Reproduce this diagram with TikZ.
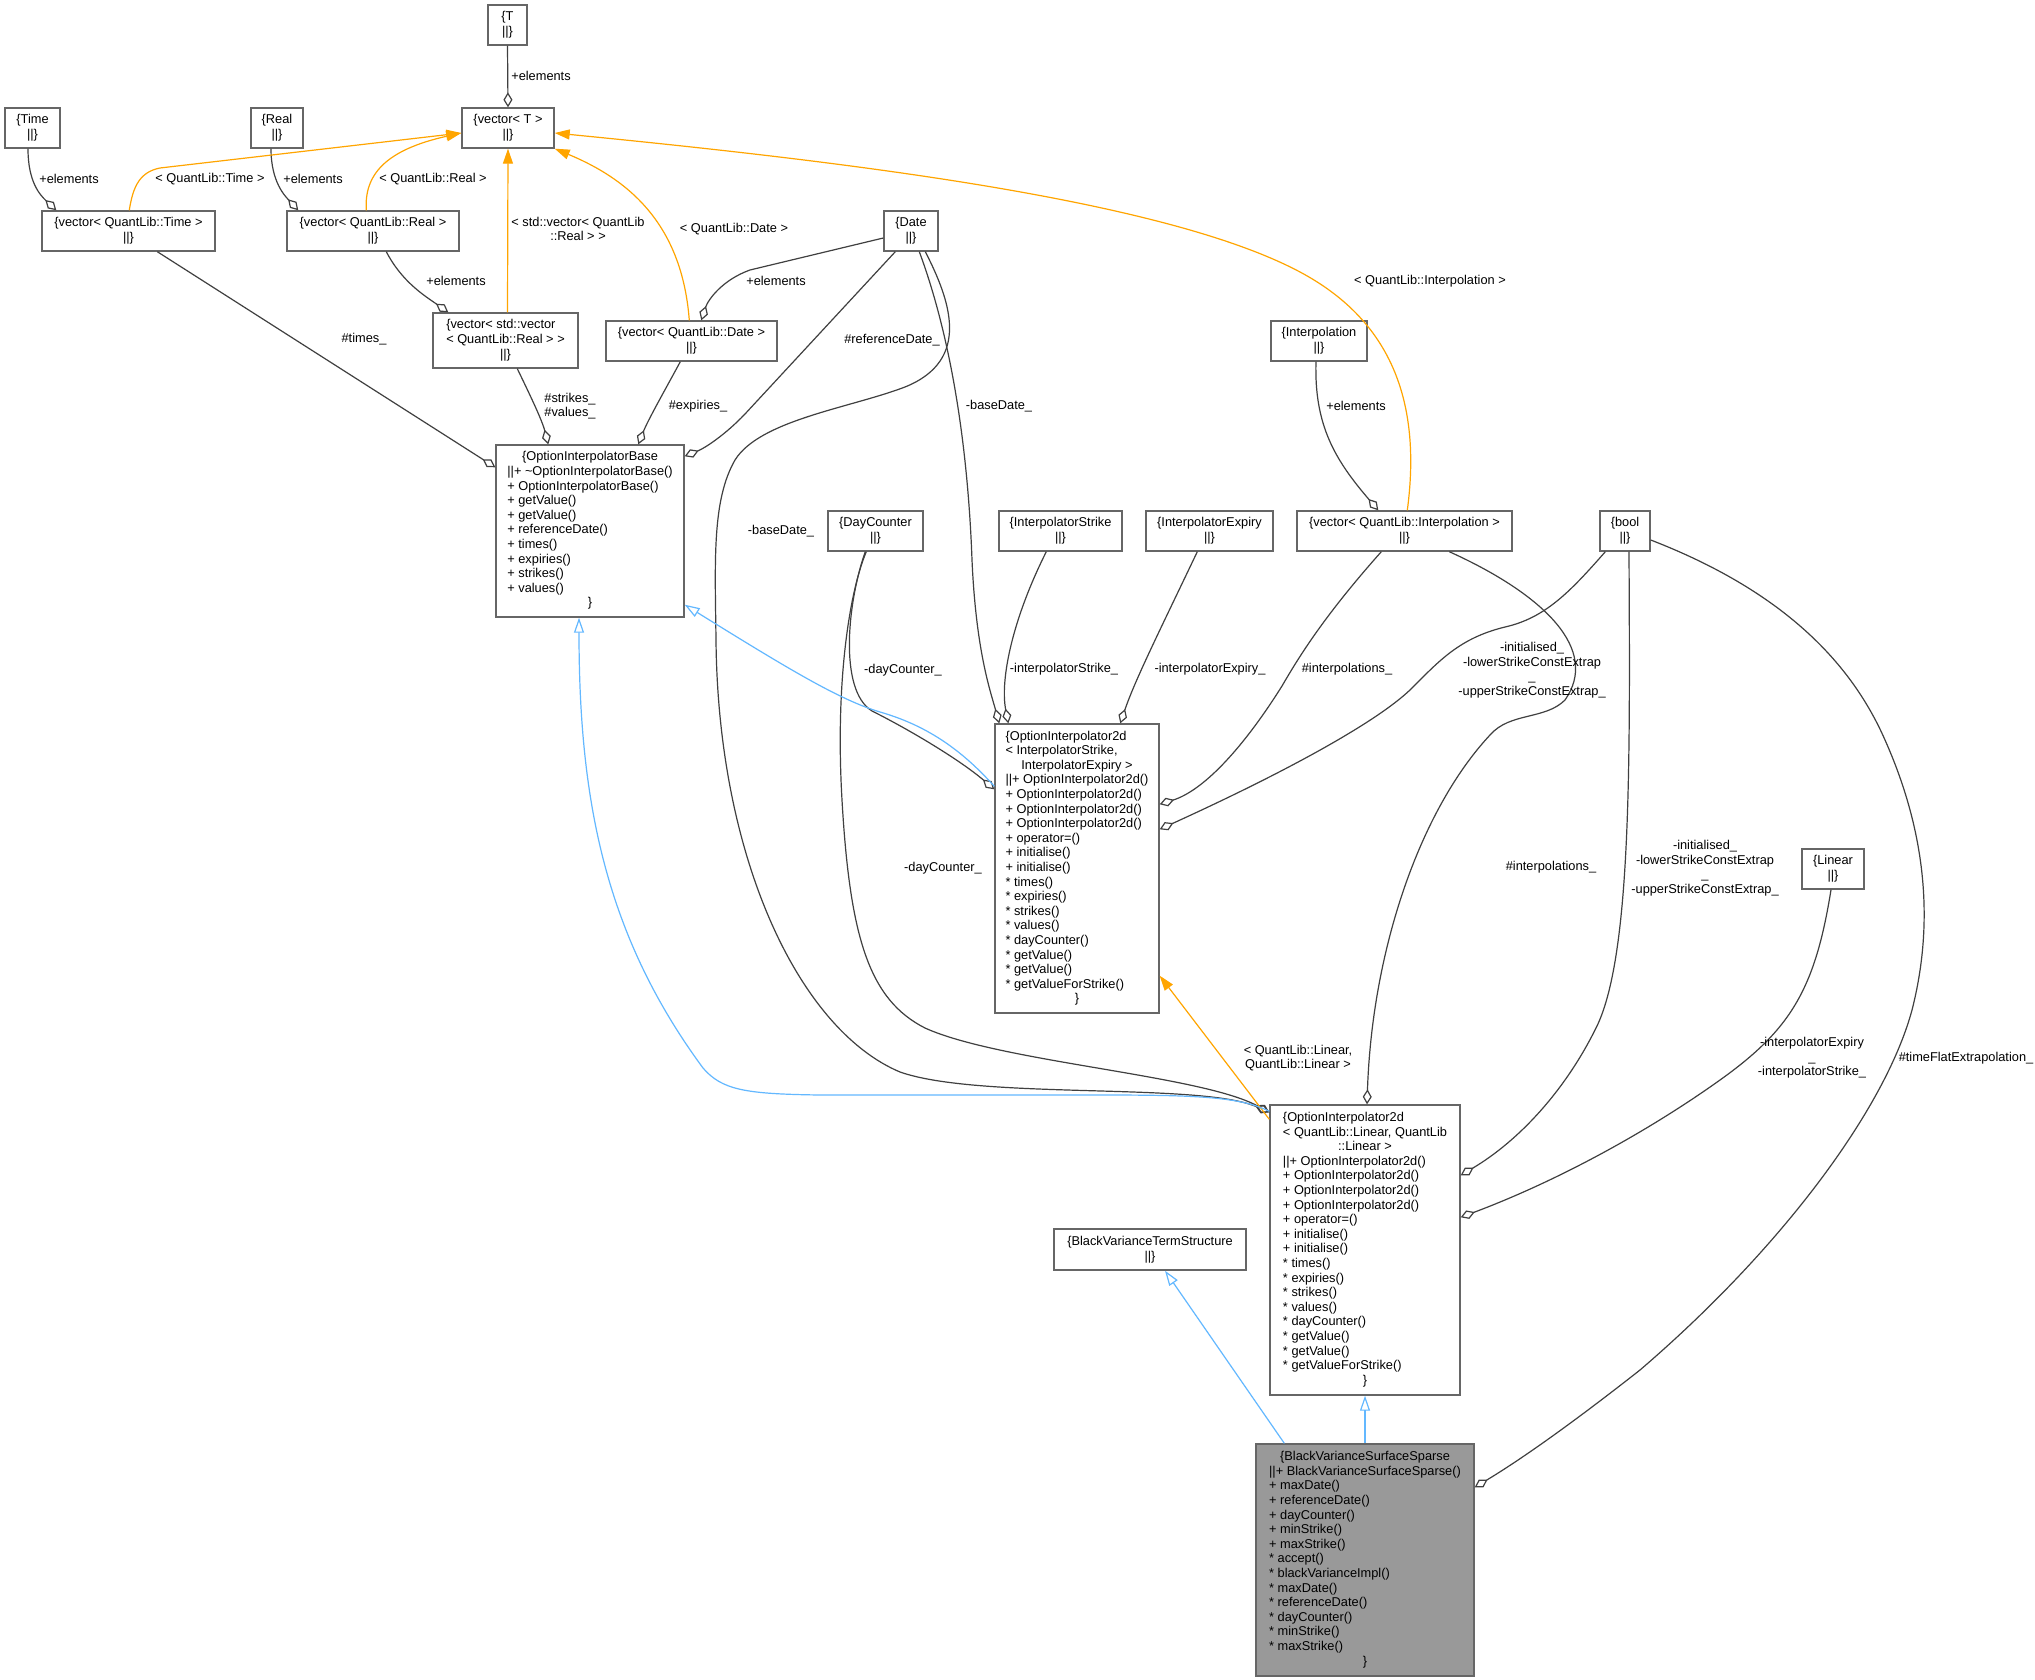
\documentclass[tikz,border=0pt]{standalone}
\usepackage{fontspec}
\setmainfont{Liberation Sans}
\usetikzlibrary{arrows.meta,calc}
\definecolor{boxc}{HTML}{666666}
\definecolor{usec}{HTML}{404040}
\definecolor{inhc}{HTML}{63B8FF}
\definecolor{tmpc}{HTML}{FFA500}
\definecolor{selc}{HTML}{999999}
\newcommand\dxf{\fontsize{6.4pt}{7.3pt}\selectfont}
\newcommand\mcl[1]{\multicolumn{1}{@{}c@{}}{#1}}
\newcommand\st{{*}}
\begin{document}
\begin{tikzpicture}[x=0.5pt,y=-0.5pt,
  wh/.style 2 args={minimum width=#1*0.5pt, minimum height=#2*0.5pt},
  cls/.style={draw=boxc, line width=0.7pt, fill=white, inner sep=0pt, align=center, font=\dxf},
  clsb/.style={draw=boxc, line width=0.7pt, fill=white, inner sep=0pt, font=\dxf},
  lab/.style={font=\dxf, align=center, inner sep=0pt},
  use/.style={draw=usec, line width=0.6pt, -{Diamond[open, length=7.5pt, width=4.5pt, line width=0.6pt]}},
  inh/.style={draw=inhc, line width=0.6pt, -{Triangle[open, length=7.5pt, width=5pt, line width=0.6pt]}},
  tmpl/.style={draw=tmpc, line width=0.6pt, -{Triangle[length=7.5pt, width=5pt, fill=tmpc]}}]
\useasboundingbox (0,0) rectangle (2035,1680);
\fill[white] (0,0) rectangle (2035,1680);

% ---------- nodes ----------
\node[cls, wh={39}{40}] (T) at (507.5,25) {\{T\\||\}};
\node[cls, wh={92}{40}] (vT) at (508,128) {\{vector< T >\\||\}};
\node[cls, wh={55}{40}] (Time) at (32.5,128) {\{Time\\||\}};
\node[cls, wh={52}{40}] (Real) at (277,128) {\{Real\\||\}};
\node[cls, wh={173}{40}] (vTime) at (128.5,231) {\{vector< QuantLib::Time >\\||\}};
\node[cls, wh={172}{40}] (vReal) at (373,231) {\{vector< QuantLib::Real >\\||\}};
\node[clsb, wh={145}{55}] (vVec) at (505.5,340.5) {\begin{tabular}{@{}l@{}}\{vector< std::vector\\< QuantLib::Real > >\\\mcl{||\}}\end{tabular}};
\node[cls, wh={171}{40}] (vDate) at (691.5,341) {\{vector< QuantLib::Date >\\||\}};
\node[cls, wh={54}{40}] (Date) at (911,231) {\{Date\\||\}};
\node[clsb, wh={188}{172}] (OIB) at (590,531) {\begin{tabular}{@{}l@{}}\mcl{\{OptionInterpolatorBase}\\
||+ \textasciitilde OptionInterpolatorBase()\\
+ OptionInterpolatorBase()\\
+ getValue()\\
+ getValue()\\
+ referenceDate()\\
+ times()\\
+ expiries()\\
+ strikes()\\
+ values()\\
\mcl{\}}\end{tabular}};
\node[cls, wh={96}{40}] (Interp) at (1319,341) {\{Interpolation\\||\}};
\node[cls, wh={95}{40}] (DayC) at (875.5,531) {\{DayCounter\\||\}};
\node[cls, wh={123}{40}] (IS) at (1060.5,531) {\{InterpolatorStrike\\||\}};
\node[cls, wh={127}{40}] (IE) at (1209.5,531) {\{InterpolatorExpiry\\||\}};
\node[cls, wh={215}{40}] (vInterp) at (1404.5,531) {\{vector< QuantLib::Interpolation >\\||\}};
\node[cls, wh={50}{40}] (bool) at (1625,531) {\{bool\\||\}};
\node[clsb, wh={164}{289}] (OI2d) at (1077,868.5) {\begin{tabular}{@{}l@{}}\{OptionInterpolator2d\\
< InterpolatorStrike,\\
\mcl{InterpolatorExpiry >}\\
||+ OptionInterpolator2d()\\
+ OptionInterpolator2d()\\
+ OptionInterpolator2d()\\
+ OptionInterpolator2d()\\
+ operator=()\\
+ initialise()\\
+ initialise()\\
\st{} times()\\
\st{} expiries()\\
\st{} strikes()\\
\st{} values()\\
\st{} dayCounter()\\
\st{} getValue()\\
\st{} getValue()\\
\st{} getValueForStrike()\\
\mcl{\}}\end{tabular}};
\node[cls, wh={62}{40}] (Linear) at (1833,869) {\{Linear\\||\}};
\node[clsb, wh={190}{290}] (OI2dL) at (1365,1250) {\begin{tabular}{@{}l@{}}\{OptionInterpolator2d\\
< QuantLib::Linear, QuantLib\\
\mcl{::Linear >}\\
||+ OptionInterpolator2d()\\
+ OptionInterpolator2d()\\
+ OptionInterpolator2d()\\
+ OptionInterpolator2d()\\
+ operator=()\\
+ initialise()\\
+ initialise()\\
\st{} times()\\
\st{} expiries()\\
\st{} strikes()\\
\st{} values()\\
\st{} dayCounter()\\
\st{} getValue()\\
\st{} getValue()\\
\st{} getValueForStrike()\\
\mcl{\}}\end{tabular}};
\node[cls, wh={192}{41}] (BVTS) at (1150,1249.5) {\{BlackVarianceTermStructure\\||\}};
\node[clsb, fill=selc, wh={218}{232}] (BVSS) at (1365,1560) {\begin{tabular}{@{}l@{}}\mcl{\{BlackVarianceSurfaceSparse}\\
||+ BlackVarianceSurfaceSparse()\\
+ maxDate()\\
+ referenceDate()\\
+ dayCounter()\\
+ minStrike()\\
+ maxStrike()\\
\st{} accept()\\
\st{} blackVarianceImpl()\\
\st{} maxDate()\\
\st{} referenceDate()\\
\st{} dayCounter()\\
\st{} minStrike()\\
\st{} maxStrike()\\
\mcl{\}}\end{tabular}};

% ---------- usage edges ----------
\draw[use] (T.south) -- (vT.north);
\draw[use] ($(Time.south)+(-4.5,0)$) .. controls (28,182) and (40,195) .. ($(vTime.north west)+(15,0)$);
\draw[use] ($(Real.south)+(-6,0)$) .. controls (271,182) and (285,196) .. ($(vReal.north west)+(12,0)$);
\draw[use] ($(vReal.south west)+(100,0)$) .. controls (402,282) and (425,296) .. ($(vVec.north west)+(16,0)$);
\draw[use] ($(Date.west)+(0,7)$) -- (750,270) .. controls (722,280) and (708,300) .. ($(vDate.north west)+(96,0)$);
\draw[use] ($(Interp.south)+(-3,0)$) .. controls (1314,425) and (1335,460) .. ($(vInterp.north west)+(82,0)$);
\draw[use] ($(vTime.south west)+(116,0)$) -- ($(OIB.north west)+(0,23)$);
\draw[use] ($(vVec.south west)+(85,0)$) .. controls (530,395) and (542,420) .. ($(OIB.north west)+(53,0)$);
\draw[use] ($(vDate.south west)+(75,0)$) .. controls (665,390) and (648,420) .. ($(OIB.north west)+(143,0)$);
\draw[use] ($(Date.south west)+(12,0)$) -- (745,414) .. controls (725,435) and (705,448) .. ($(OIB.north east)+(0,12)$);
\draw[use] ($(Date.south west)+(42,0)$) .. controls (950,300) and (972,360) .. (905,387) .. controls (850,408) and (760,420) .. (735,460) .. controls (712,500) and (715,560) .. (716,640) .. controls (718,860) and (800,1030) .. (900,1072) .. controls (980,1100) and (1200,1082) .. ($(OI2dL.north west)+(0,8)$);
\draw[use] ($(DayC.south west)+(39,0)$) .. controls (850,590) and (835,680) .. (842,800) .. controls (850,940) and (870,1000) .. (925,1028) .. controls (1000,1062) and (1200,1075) .. ($(OI2dL.north west)+(0,8)$);
\draw[use] ($(DayC.south west)+(38,0)$) .. controls (848,600) and (838,690) .. (872,711) .. controls (910,730) and (960,760) .. ($(OI2d.north west)+(0,66)$);
\draw[use] ($(IS.south west)+(48,0)$) .. controls (1012,620) and (1000,680) .. ($(OI2d.north west)+(14,0)$);
\draw[use] ($(Date.south west)+(36,0)$) .. controls (952,340) and (968,450) .. (972,560) .. controls (976,650) and (990,690) .. ($(OI2d.north west)+(5,0)$);
\draw[use] ($(IE.south west)+(52,0)$) .. controls (1160,630) and (1135,680) .. ($(OI2d.north west)+(126,0)$);
\draw[use] ($(vInterp.south west)+(85,0)$) .. controls (1325,615) and (1300,655) .. (1282,686) .. controls (1245,745) and (1205,790) .. ($(OI2d.north east)+(0,81)$);
\draw[use] ($(bool.south west)+(6,0)$) .. controls (1570,592) and (1545,618) .. (1505,627) .. controls (1460,638) and (1440,660) .. (1412,688) .. controls (1380,720) and (1290,770) .. ($(OI2d.north east)+(0,106)$);
\draw[use] ($(vInterp.south west)+(153,0)$) .. controls (1545,595) and (1600,650) .. (1565,700) .. controls (1545,720) and (1510,712) .. (1490,735) .. controls (1420,810) and (1372,950) .. ($(OI2dL.north)+(2,0)$);
\draw[use] ($(bool.south)+(4,0)$) .. controls (1630,760) and (1632,960) .. (1595,1030) .. controls (1565,1090) and (1520,1140) .. ($(OI2dL.north east)+(0,71)$);
\draw[use] ($(Linear.south)+(-2,0)$) .. controls (1815,990) and (1790,1030) .. (1720,1080) .. controls (1650,1130) and (1560,1180) .. ($(OI2dL.north east)+(0,113)$);
\draw[use] ($(bool.east)+(0,9)$) .. controls (1780,590) and (1850,660) .. (1885,740) .. controls (1925,830) and (1935,920) .. (1912,1010) .. controls (1885,1110) and (1780,1250) .. (1640,1370) .. controls (1570,1425) and (1520,1460) .. ($(BVSS.north east)+(0,44)$);

% ---------- template edges ----------
\draw[tmpl] ($(vTime.north west)+(88,0)$) .. controls (133,186) and (140,172) .. (160,168) -- ($(vT.west)+(0,5)$);
\draw[tmpl] ($(vReal.north west)+(80,0)$) .. controls (364,175) and (385,150) .. ($(vT.west)+(0,5)$);
\draw[tmpl] ($(vVec.north)+(2,0)$) -- (vT.south);
\draw[tmpl] ($(vDate.north west)+(84,0)$) .. controls (682,225) and (630,180) .. (vT.south east);
\draw[tmpl] ($(vInterp.north west)+(111,0)$) .. controls (1422,400) and (1390,320) .. (1300,272) .. controls (1165,200) and (850,162) .. ($(vT.east)+(0,5)$);
\draw[tmpl] ($(OI2dL.north west)+(0,15)$) -- ($(OI2d.south east)+(0,-38)$);

% ---------- inheritance edges ----------
\draw[inh] ($(OI2d.north west)+(0,63)$) .. controls (960,748) and (925,725) .. (880,712) .. controls (840,700) and (790,670) .. ($(OIB.south east)+(0,-13)$);
\draw[inh] ($(OI2dL.north west)+(0,7)$) .. controls (1240,1097) and (1200,1095) .. (1100,1095) -- (820,1095) .. controls (745,1094) and (722,1090) .. (703,1068) .. controls (605,935) and (579,800) .. ($(OIB.south)+(-11,0)$);
\draw[inh] (BVSS.north) -- (OI2dL.south);
\draw[inh] ($(BVSS.north west)+(29,0)$) -- ($(BVTS.south)+(15,0)$);

% ---------- labels ----------
\node[lab] (l1) at (541,76) {+elements};
\node[lab] (l2) at (69,179) {+elements};
\node[lab] (l3) at (313,179) {+elements};
\node[lab] (l4) at (456,281) {+elements};
\node[lab] (l5) at (776,281) {+elements};
\node[lab] (l6) at (1356,406) {+elements};
\node[lab] (l7) at (210,179) {< QuantLib::Time >};
\node[lab] (l8) at (433,179) {< QuantLib::Real >};
\node[lab] (l9) at (578,229) {< std::vector< QuantLib\\::Real > >};
\node[lab] (l10) at (734,229) {< QuantLib::Date >};
\node[lab] (l11) at (1430,281) {< QuantLib::Interpolation >};
\node[lab] (l12) at (364,339) {\#times\_};
\node[lab] (l13) at (892,340) {\#referenceDate\_};
\node[lab] (l14) at (570,406) {\#strikes\_\\\#values\_};
\node[lab] (l15) at (698,406) {\#expiries\_};
\node[lab] (l16) at (999,406) {-baseDate\_};
\node[lab] (l17) at (781,531) {-baseDate\_};
\node[lab] (l18) at (903,670) {-dayCounter\_};
\node[lab] (l19) at (943,868) {-dayCounter\_};
\node[lab] (l20) at (1064,669) {-interpolatorStrike\_};
\node[lab] (l21) at (1210,669) {-interpolatorExpiry\_};
\node[lab] (l22) at (1347,669) {\#interpolations\_};
\node[lab] (l23) at (1551,867) {\#interpolations\_};
\node[lab] (l24) at (1532,670) {-initialised\_\\-lowerStrikeConstExtrap\\\_\\-upperStrikeConstExtrap\_};
\node[lab] (l25) at (1705,868) {-initialised\_\\-lowerStrikeConstExtrap\\\_\\-upperStrikeConstExtrap\_};
\node[lab] (l26) at (1812,1058) {-interpolatorExpiry\\\_\\-interpolatorStrike\_};
\node[lab] (l27) at (1966,1058) {\#timeFlatExtrapolation\_};
\node[lab] (l28) at (1298,1058) {< QuantLib::Linear,\\QuantLib::Linear >};
\end{tikzpicture}
\end{document}
